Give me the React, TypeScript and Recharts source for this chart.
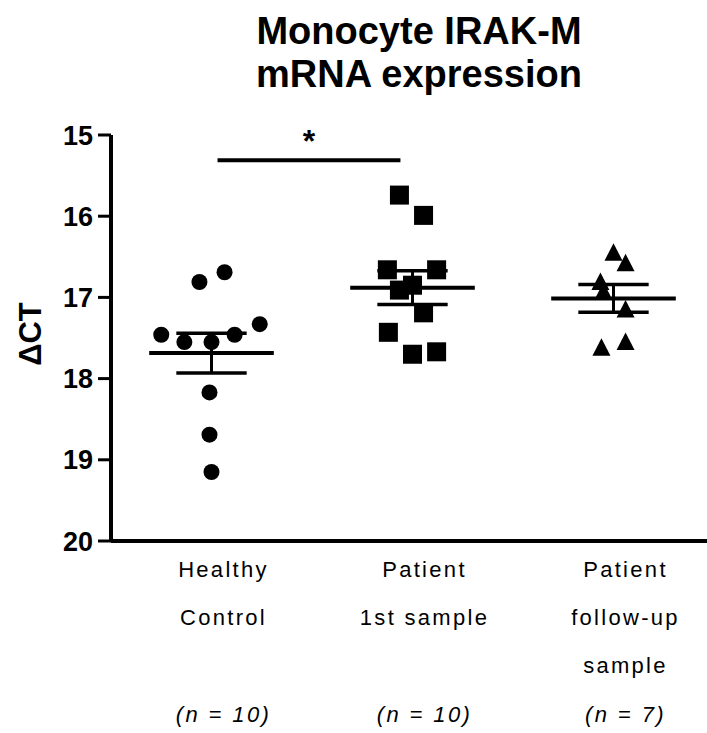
import React from 'react';
import { ScatterChart, Scatter, XAxis, YAxis, ReferenceLine, Label } from 'recharts';

const FONT = '"Liberation Sans", Arial, Helvetica, sans-serif';

// Category labels
const groupLines: string[][] = [
  ['Healthy', 'Control'],
  ['Patient', '1st sample'],
  ['Patient', 'follow-up', 'sample'],
];
const groupN: string[] = ['(n = 10)', '(n = 10)', '(n = 7)'];

// ΔCT values
const healthyValues = [16.69, 16.81, 17.33, 17.46, 17.55, 17.55, 17.46, 18.17, 18.69, 19.15];
const healthyJitter = [0.065, -0.06, 0.24, -0.25, -0.135, 0.0, 0.115, -0.01, -0.01, 0.0];

const firstValues = [15.74, 15.99, 16.66, 16.66, 16.91, 16.85, 17.19, 17.43, 17.70, 17.67];
const firstJitter = [-0.065, 0.055, -0.125, 0.12, -0.065, 0.0, 0.055, -0.12, 0.0, 0.12];

const followValues = [16.45, 16.58, 16.81, 16.93, 17.15, 17.55, 17.62];
const followJitter = [0.0, 0.06, -0.065, -0.05, 0.06, 0.06, -0.06];

const yTicks = [15, 16, 17, 18, 19, 20];
const xTicks = [0.5, 1.5, 2.5];

// significance bracket (data units)
const sigFrom = 0.53;
const sigTo = 1.44;
const sigLevel = 15.31;
const sigText = '*';

const MEAN_HALF = 0.31;
const SEM_HALF = 0.175;

const toPoints = (vals: number[], jit: number[], idx: number) =>
  vals.map((v, i) => ({ x: idx + 0.5 + jit[i], y: v }));

const healthyData = toPoints(healthyValues, healthyJitter, 0);
const firstData = toPoints(firstValues, firstJitter, 1);
const followData = toPoints(followValues, followJitter, 2);

const stats = (vals: number[]) => {
  const n = vals.length;
  const m = vals.reduce((a, b) => a + b, 0) / n;
  const sd = Math.sqrt(vals.reduce((a, b) => a + (b - m) * (b - m), 0) / (n - 1));
  return { mean: m, sem: sd / Math.sqrt(n) };
};
const groupStats = [stats(healthyValues), stats(firstValues), stats(followValues)];

const CircleShape = (p: any) => <circle cx={p.cx} cy={p.cy} r={8} fill="#000" />;
const SquareShape = (p: any) => (
  <rect x={p.cx - 9.5} y={p.cy - 9.5} width={19} height={19} fill="#000" />
);
const TriangleShape = (p: any) => (
  <polygon
    points={`${p.cx},${p.cy - 9.5} ${p.cx - 9},${p.cy + 8} ${p.cx + 9},${p.cy + 8}`}
    fill="#000"
  />
);

const XTick = (props: any) => {
  const { x, y, payload } = props;
  const idx = Math.floor(payload.value);
  const lines = groupLines[idx] || [];
  const cx = x + 12;
  return (
    <g>
      {lines.map((l, i) => (
        <text
          key={i}
          x={cx}
          y={y + 36 + i * 48}
          textAnchor="middle"
          fontFamily={FONT}
          fontSize={22}
          letterSpacing={2.3}
          fill="#000"
        >
          {l}
        </text>
      ))}
      <text
        x={cx}
        y={y + 181}
        textAnchor="middle"
        fontFamily={FONT}
        fontSize={22}
        fontStyle="italic"
        letterSpacing={2.4}
        fill="#000"
      >
        {groupN[idx]}
      </text>
    </g>
  );
};

const YLabel = (props: any) => {
  const vb = props.viewBox || { x: 0, y: 135, width: 111, height: 406 };
  const cx = vb.x + 30;
  const cy = vb.y + vb.height / 2 - 4;
  return (
    <text
      x={cx}
      y={cy}
      transform={`rotate(-90 ${cx} ${cy})`}
      textAnchor="middle"
      dominantBaseline="central"
      fontFamily={FONT}
      fontSize={31}
      fontWeight="bold"
      fill="#000"
    >
      ΔCT
    </text>
  );
};

export default function App() {
  return (
    <div
      style={{
        position: 'absolute',
        left: 0,
        top: 0,
        width: 707,
        height: 733,
        overflow: 'hidden',
        background: '#fff',
      }}
    >
      <div
        style={{
          position: 'absolute',
          left: 219,
          top: 10,
          width: 400,
          textAlign: 'center',
          fontFamily: FONT,
          fontWeight: 'bold',
          fontSize: 38,
          lineHeight: '43px',
          color: '#000',
          zIndex: 2,
        }}
      >
        Monocyte IRAK-M
        <br />
        mRNA expression
      </div>
      <ScatterChart
        width={730}
        height={733}
        margin={{ top: 135, right: 16, bottom: 0, left: 0 }}
      >
        <XAxis
          type="number"
          dataKey="x"
          domain={[0, 3]}
          ticks={xTicks}
          interval={0}
          allowDataOverflow
          height={192}
          tickSize={0}
          tickMargin={0}
          tickLine={false}
          axisLine={{ stroke: '#000', strokeWidth: 4 }}
          tick={<XTick />}
        />
        <YAxis
          type="number"
          dataKey="y"
          domain={[15, 20]}
          reversed
          ticks={yTicks}
          interval={0}
          allowDataOverflow
          width={111}
          tickSize={13}
          tickMargin={5}
          tickLine={{ stroke: '#000', strokeWidth: 3 }}
          axisLine={{ stroke: '#000', strokeWidth: 4 }}
          tick={{ fontSize: 27, fontWeight: 'bold', fill: '#000', fontFamily: FONT }}
          label={<YLabel />}
        />
        {groupStats.map((s, i) => (
          <ReferenceLine
            key={`mean-${i}`}
            segment={[
              { x: i + 0.5 - MEAN_HALF, y: s.mean },
              { x: i + 0.5 + MEAN_HALF, y: s.mean },
            ]}
            stroke="#000"
            strokeWidth={4}
            ifOverflow="visible"
          />
        ))}
        {groupStats.map((s, i) => (
          <ReferenceLine
            key={`semt-${i}`}
            segment={[
              { x: i + 0.5 - SEM_HALF, y: s.mean - s.sem },
              { x: i + 0.5 + SEM_HALF, y: s.mean - s.sem },
            ]}
            stroke="#000"
            strokeWidth={3.5}
            ifOverflow="visible"
          />
        ))}
        {groupStats.map((s, i) => (
          <ReferenceLine
            key={`semb-${i}`}
            segment={[
              { x: i + 0.5 - SEM_HALF, y: s.mean + s.sem },
              { x: i + 0.5 + SEM_HALF, y: s.mean + s.sem },
            ]}
            stroke="#000"
            strokeWidth={3.5}
            ifOverflow="visible"
          />
        ))}
        {groupStats.map((s, i) => (
          <ReferenceLine
            key={`semv-${i}`}
            segment={[
              { x: i + 0.5, y: s.mean - s.sem },
              { x: i + 0.5, y: s.mean + s.sem },
            ]}
            stroke="#000"
            strokeWidth={3}
            ifOverflow="visible"
          />
        ))}
        <ReferenceLine
          segment={[
            { x: sigFrom, y: sigLevel },
            { x: sigTo, y: sigLevel },
          ]}
          stroke="#000"
          strokeWidth={4}
          ifOverflow="visible"
        >
          <Label
            value={sigText}
            position="top"
            offset={8}
            fontSize={32}
            fontWeight="bold"
            fontFamily={FONT}
            fill="#000"
          />
        </ReferenceLine>
        <Scatter data={healthyData} shape={CircleShape} isAnimationActive={false} />
        <Scatter data={firstData} shape={SquareShape} isAnimationActive={false} />
        <Scatter data={followData} shape={TriangleShape} isAnimationActive={false} />
      </ScatterChart>
    </div>
  );
}
